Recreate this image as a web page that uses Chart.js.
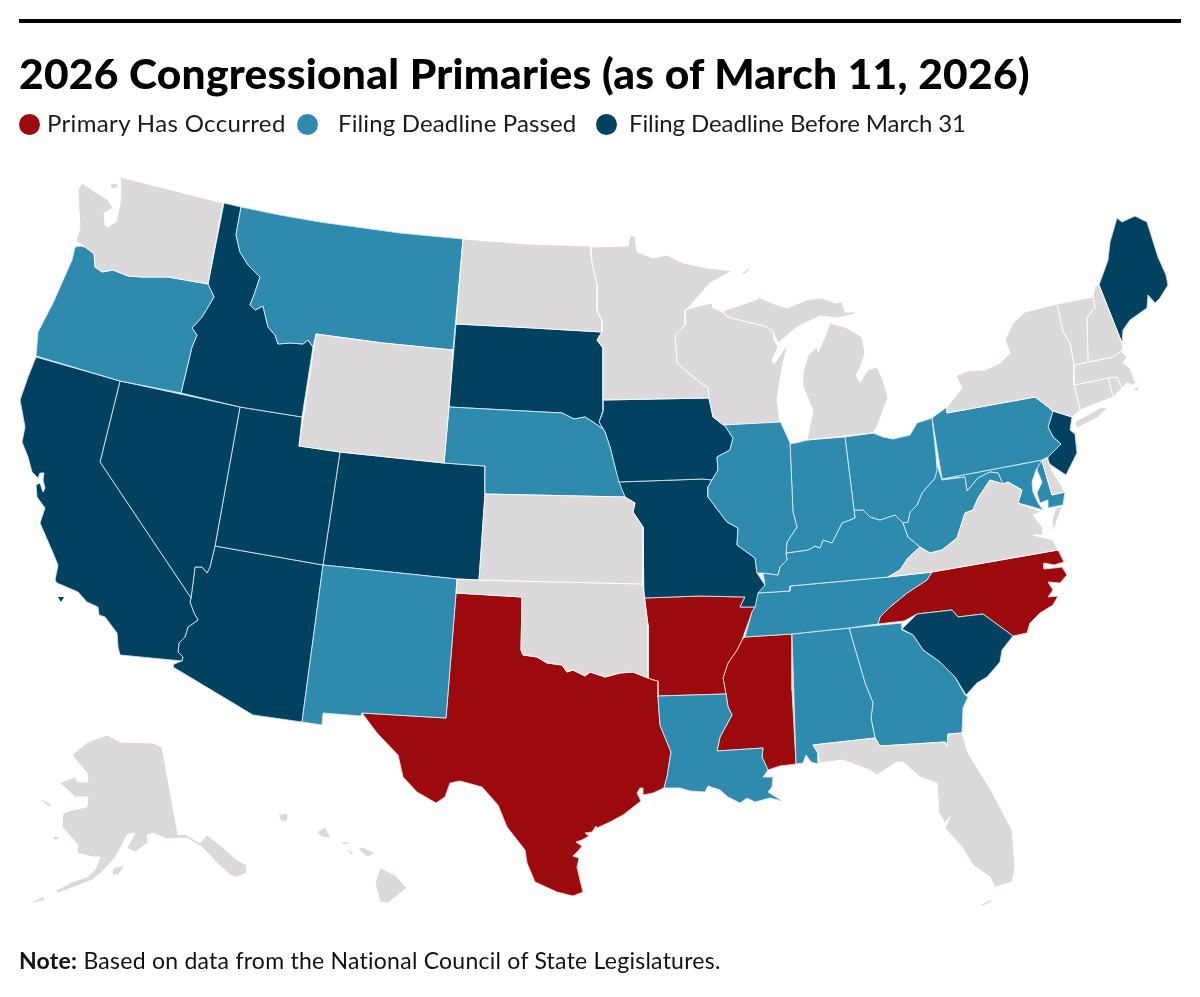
<!DOCTYPE html>
<html><head><meta charset="utf-8">
<script src="https://cdn.jsdelivr.net/npm/chart.js@4"></script>
<style>
html,body{margin:0;padding:0;background:#fff;width:1200px;height:997px;overflow:hidden}
#wrap{position:relative;width:1200px;height:997px;font-family:"Lato",sans-serif;color:#111}
canvas{position:absolute;left:0;top:0}
.rule{position:absolute;left:19px;top:19px;width:1162px;height:4px;background:#000}
h1{position:absolute;left:19px;top:49px;margin:0;font:900 42.5px/48px "Lato",sans-serif;color:#000;white-space:nowrap;letter-spacing:.26px}
.lg{position:absolute;top:108px;font-size:24px;line-height:30px;white-space:nowrap;color:#1a1a1a}
.dot{position:absolute;top:113.5px;width:21px;height:21px;border-radius:50%}
.note{position:absolute;left:19px;top:945px;font-size:23px;line-height:30px;white-space:nowrap;color:#111;letter-spacing:.25px}
</style></head><body>
<div id="wrap">
<canvas id="c" width="1200" height="997"></canvas>
<div class="rule"></div>
<h1>2026 Congressional Primaries (as of March 11, 2026)</h1>
<div class="dot" style="left:19px;background:#9c0a0e"></div><div class="lg" style="left:47px;letter-spacing:.35px">Primary Has Occurred</div>
<div class="dot" style="left:297px;background:#2f8bae"></div><div class="lg" style="left:338px;letter-spacing:.14px">Filing Deadline Passed</div>
<div class="dot" style="left:596px;background:#02415f"></div><div class="lg" style="left:629px;letter-spacing:-.1px">Filing Deadline Before March 31</div>
<div class="note"><b>Note:</b> Based on data from the National Council of State Legislatures.</div>
</div>
<script>
// State outlines.
const WA=[[120,177],[223,203],[208,284],[168,277],[142,277],[128,276],[113,270],[102,272],[95,267],[94,254],[85,247],[76,241],[80,228],[78,190],[82,183],[97,193],[108,200],[113,208],[104,213],[105,225],[108,227],[116,222],[120,205],[121,190]];
const WA_I=[[110,184],[117,183],[118,187],[112,189]];
const OR=[[80,246],[85,247],[94,253],[95,267],[102,272],[113,270],[128,276],[142,277],[168,277],[208,284],[214,297],[202,317],[192,328],[197,335],[192,347],[181,393],[120,381],[36,356],[38,332],[53,303],[72,260],[75,247]];
const ID=[[224,203],[241,207],[236,235],[240,252],[248,265],[260,277],[254,295],[250,305],[255,310],[263,306],[268,327],[275,335],[278,344],[290,343],[303,344],[308,340],[313,347],[302,417],[240,407],[181,393],[192,347],[197,335],[192,328],[202,317],[214,297],[208,284]];
const MT=[[241,207],[280,215],[320,222],[400,233],[463,239],[453,350],[383,343],[316,334],[313,347],[308,340],[303,344],[290,343],[278,344],[275,335],[268,327],[263,306],[255,310],[250,305],[254,295],[260,277],[248,265],[240,252],[236,235]];
const ND=[[463,239],[527,244],[590,246],[592,263],[597,285],[597,310],[602,322],[602,332],[533,328],[456,324]];
const SD=[[456,324],[533,328],[602,332],[597,340],[603,348],[603,410],[599,422],[603,429],[593,422],[585,417],[574,419],[562,413],[449,407]];
const WY=[[316,334],[383,343],[453,350],[449,407],[444,463],[340,452],[299,446]];
const NE=[[449,407],[562,413],[574,419],[585,417],[593,422],[603,429],[605,432],[610,447],[615,467],[619,482],[625,497],[485,494],[485,466],[444,463]];
const KS=[[485,494],[625,497],[635,503],[633,512],[643,527],[643,584],[479,580]];
const OK_=[[457,579],[479,580],[643,584],[648,625],[648,678],[633,672],[620,673],[605,677],[590,672],[585,676],[573,670],[567,672],[562,665],[547,663],[537,657],[523,655],[521,650],[522,597],[456,593]];
const TX=[[456,593],[522,597],[521,650],[523,655],[537,657],[547,663],[562,665],[567,672],[573,670],[585,676],[590,672],[605,677],[620,673],[633,672],[648,678],[653,680],[658,681],[658,697],[660,725],[671,752],[667,777],[664,788],[653,793],[643,795],[643,788],[640,788],[637,793],[641,801],[623,815],[610,822],[597,828],[596,826],[592,832],[585,833],[589,836],[582,840],[576,842],[582,846],[579,850],[573,856],[579,858],[577,867],[580,880],[583,892],[573,896],[557,892],[535,882],[527,863],[525,850],[507,827],[498,805],[482,787],[460,781],[450,783],[445,797],[436,803],[417,792],[403,777],[398,755],[377,733],[362,713],[446,718]];
const NM=[[323,565],[457,579],[456,593],[446,718],[362,713],[361,716],[323,713],[322,725],[302,722]];
const CO=[[340,452],[444,463],[485,466],[485,494],[479,580],[457,579],[323,565]];
const UT=[[240,407],[302,417],[299,446],[340,452],[323,565],[215,546]];
const NV=[[120,381],[240,407],[215,546],[210,567],[207,573],[202,567],[195,567],[193,583],[191,598],[100,462]];
const CA=[[36,357],[120,381],[100,462],[191,598],[190,602],[194,613],[198,620],[188,627],[185,637],[179,643],[178,652],[183,657],[182,661],[120,655],[118,647],[117,633],[105,617],[99,615],[98,607],[87,602],[78,592],[57,583],[55,580],[58,565],[53,553],[40,523],[45,508],[37,497],[36,485],[40,483],[43,492],[45,488],[43,480],[44,473],[40,473],[38,478],[32,472],[28,457],[22,442],[25,427],[20,400],[28,377]];
const CA_I=[[58,597],[64,597],[61,602]];
const AZ=[[215,546],[323,565],[302,722],[253,715],[173,667],[174,664],[182,661],[183,657],[178,652],[179,643],[185,637],[188,627],[198,620],[194,613],[190,602],[191,598],[193,583],[195,567],[202,567],[207,573],[210,567]];
const MN=[[591,247],[628,246],[630,236],[635,236],[637,252],[653,258],[667,255],[683,263],[707,268],[732,271],[710,283],[688,308],[685,310],[685,325],[675,335],[677,363],[693,377],[708,388],[709,398],[603,400],[603,348],[597,340],[602,332],[602,322],[597,310],[597,285],[592,263]];
const IA=[[603,400],[709,398],[710,403],[713,417],[723,423],[733,438],[730,450],[717,457],[718,470],[712,480],[703,479],[618,482],[615,467],[610,447],[605,432],[599,422],[603,412]];
const MO=[[618,482],[703,479],[712,480],[708,487],[708,497],[727,522],[738,528],[737,545],[755,558],[757,573],[765,585],[760,595],[755,607],[740,607],[745,597],[700,596],[644,598],[643,527],[633,512],[635,503],[625,497]];
const AR=[[644,598],[700,596],[745,597],[740,607],[755,607],[752,612],[742,640],[737,650],[728,663],[723,678],[726,694],[658,696],[657,681],[648,678],[648,625]];
const LA=[[658,696],[726,694],[728,707],[732,715],[720,737],[717,751],[763,748],[762,757],[768,770],[763,777],[773,777],[772,787],[768,792],[782,801],[770,798],[755,802],[747,798],[740,803],[728,797],[720,790],[708,786],[705,792],[690,791],[680,788],[664,788],[667,777],[671,752],[660,725]];
const MS=[[745,637],[792,634],[792,690],[796,764],[780,766],[768,770],[762,757],[763,748],[717,751],[720,737],[732,715],[728,707],[726,694],[723,678],[728,663],[737,650],[742,640]];
const AL=[[792,634],[849,628],[865,683],[873,703],[871,718],[875,738],[813,745],[818,753],[818,764],[811,762],[806,755],[803,763],[796,764]];
const GA=[[849,628],[902,623],[902,630],[913,635],[923,650],[940,662],[955,677],[965,695],[968,697],[963,708],[962,733],[948,734],[947,746],[945,742],[880,746],[875,738],[871,718],[873,703],[865,683]];
const FL=[[813,745],[875,738],[880,746],[945,742],[947,746],[948,734],[962,733],[968,753],[992,792],[1012,830],[1015,867],[1012,882],[995,887],[990,877],[973,865],[962,847],[945,828],[950,817],[945,823],[939,813],[937,783],[920,777],[903,762],[897,762],[877,775],[870,770],[843,760],[820,763],[818,753]];
const FL_I=[[980,905],[992,899],[991,902],[983,906]];
const SC=[[902,629],[917,614],[952,610],[958,617],[983,614],[1013,636],[1002,650],[1000,662],[987,677],[977,683],[966,695],[955,677],[940,662],[923,650],[913,635]];
const NC=[[932,572],[1058,550],[1064,562],[1054,565],[1044,563],[1044,569],[1054,568],[1062,567],[1067,575],[1060,583],[1048,582],[1053,590],[1048,597],[1058,596],[1053,605],[1040,613],[1030,623],[1027,633],[1013,636],[983,614],[958,617],[952,610],[917,614],[904,621],[878,624],[880,617],[890,607],[907,593],[927,580]];
const VA=[[888,577],[900,570],[908,558],[920,547],[930,553],[942,550],[957,538],[965,513],[973,510],[978,498],[990,480],[1003,484],[1008,482],[1022,490],[1018,503],[1042,512],[1033,515],[1043,528],[1043,535],[1033,535],[1053,540],[1058,550],[932,572]];
const VA_E=[[1056,507],[1062,507],[1053,532],[1052,520]];
const KY=[[888,577],[790,586],[790,591],[758,593],[765,585],[763,573],[778,575],[780,567],[787,560],[786,553],[808,550],[815,546],[820,548],[823,540],[832,543],[842,523],[855,518],[854,510],[863,510],[870,517],[880,520],[895,515],[903,523],[908,537],[920,547],[908,558],[900,570]];
const TN=[[758,593],[790,591],[790,586],[888,577],[932,572],[927,580],[907,593],[890,607],[880,617],[878,624],[849,628],[792,634],[745,637],[752,612],[755,607]];
const IL=[[723,423],[780,421],[787,436],[790,443],[793,512],[797,527],[787,542],[786,553],[787,560],[780,567],[778,575],[763,573],[757,573],[755,558],[737,545],[738,528],[727,522],[708,497],[708,487],[712,480],[718,470],[717,457],[730,450],[733,438]];
const WI=[[685,310],[703,305],[712,303],[713,308],[723,312],[727,317],[767,327],[773,332],[774,340],[778,347],[772,360],[774,364],[788,344],[783,363],[780,380],[777,400],[780,422],[723,425],[713,417],[709,398],[708,388],[693,377],[677,363],[675,335],[685,325]];
const MI_U=[[723,311],[758,299],[768,283],[760,298],[777,305],[787,308],[807,300],[822,298],[835,303],[842,302],[845,312],[855,312],[855,314],[837,318],[820,316],[797,327],[778,343],[773,332],[767,327],[727,317]];
const MI_L=[[830,323],[847,328],[862,337],[865,353],[860,368],[856,375],[860,382],[868,370],[877,367],[883,380],[888,398],[885,405],[877,427],[873,433],[807,440],[813,410],[803,387],[803,373],[808,355],[817,347],[818,352],[825,337]];
const MI_I=[[742,273],[753,265],[746,273],[743,275]];
const IN_=[[790,444],[800,442],[807,440],[845,437],[854,510],[855,518],[842,523],[832,543],[823,540],[820,548],[815,546],[808,550],[786,553],[787,542],[797,527],[793,512]];
const OH=[[845,437],[873,433],[883,437],[893,439],[910,435],[917,423],[932,418],[936,455],[937,470],[935,478],[922,493],[917,505],[910,512],[908,522],[903,523],[895,515],[880,520],[870,517],[863,510],[854,510]];
const WV=[[936,462],[942,480],[965,477],[967,491],[978,478],[990,472],[998,473],[1003,484],[990,480],[978,498],[973,510],[965,513],[957,538],[942,550],[930,553],[920,547],[908,537],[903,523],[908,522],[910,512],[917,505],[922,493],[935,478]];
const PA=[[932,418],[947,407],[947,413],[1035,397],[1043,403],[1053,411],[1048,427],[1053,437],[1061,444],[1048,457],[1042,460],[942,479]];
const NY=[[947,407],[955,397],[962,388],[956,376],[967,371],[985,370],[1000,363],[1010,353],[1005,340],[1013,323],[1025,312],[1057,304],[1063,332],[1070,343],[1074,365],[1074,385],[1080,410],[1072,417],[1053,411],[1043,403],[1035,397],[947,413]];
const NY_L=[[1075,422],[1100,408],[1108,407],[1097,418],[1077,428]];
const VT=[[1057,304],[1093,297],[1095,307],[1087,318],[1088,362],[1074,365],[1070,343],[1063,332]];
const NH=[[1093,297],[1095,286],[1099,285],[1122,343],[1123,350],[1113,357],[1088,362],[1087,318],[1095,307]];
const ME=[[1099,285],[1108,260],[1110,242],[1117,218],[1122,222],[1135,216],[1147,222],[1158,257],[1166,275],[1168,285],[1160,298],[1155,303],[1148,295],[1147,308],[1130,320],[1123,330],[1122,343]];
const MA=[[1074,365],[1113,357],[1120,350],[1127,357],[1123,363],[1130,368],[1135,382],[1147,375],[1133,385],[1127,383],[1122,388],[1117,377],[1108,378],[1074,385]];
const MA_I=[[1134,388],[1139,388],[1136,391]];
const CT=[[1074,385],[1108,378],[1113,397],[1080,410]];
const RI=[[1108,378],[1117,377],[1122,388],[1120,390],[1113,397]];
const NJ=[[1053,411],[1072,417],[1070,430],[1075,434],[1077,453],[1066,475],[1048,463],[1048,457],[1061,444],[1053,437],[1048,427]];
const DE=[[1042,461],[1047,458],[1053,472],[1065,492],[1052,495]];
const MD=[[942,479],[1042,460],[1036,470],[1032,482],[1033,492],[1038,503],[1043,510],[1033,507],[1018,503],[1022,490],[1008,482],[1003,484],[998,473],[990,472],[978,478],[967,491],[965,477]];
const MD_E=[[1038,464],[1042,461],[1052,495],[1065,492],[1063,505],[1048,508],[1048,500],[1040,503],[1037,493],[1042,482],[1037,470]];
const AK=[[107,735],[120,742],[153,743],[162,747],[178,835],[185,834],[200,843],[207,835],[220,845],[237,860],[247,865],[247,873],[237,877],[230,875],[217,863],[208,853],[202,847],[187,838],[167,839],[153,833],[147,835],[148,843],[135,852],[127,848],[135,833],[127,835],[118,853],[113,860],[102,872],[92,880],[77,886],[58,893],[55,891],[72,882],[87,877],[95,870],[100,857],[92,857],[77,853],[78,845],[62,827],[63,813],[72,810],[87,807],[88,797],[75,797],[60,783],[75,777],[78,782],[88,782],[87,773],[72,755],[88,742]];
const AK_KOD=[[113,868],[125,865],[118,875],[112,875]];
const AK_NUN=[[53,837],[60,837],[55,840]];
const AK_STL=[[40,799],[52,805],[48,806]];
const AK_ALE=[[30,903],[43,897],[45,900]];
const HI_1=[[278,815],[288,813],[288,820],[282,822]];
const HI_2=[[317,832],[325,827],[331,838],[322,837]];
const HI_3=[[342,842],[352,843],[343,844]];
const HI_4=[[348,850],[353,853],[350,854]];
const HI_5=[[358,848],[363,847],[375,853],[368,857],[362,853]];
const HI_6=[[380,868],[395,875],[407,888],[388,903],[380,902],[375,883]];

// Status of each state
const noPrimaryYet=[WA,WA_I,ND,WY,KS,OK_,MN,WI,MI_U,MI_L,MI_I,VA,VA_E,FL,FL_I,NY,NY_L,VT,NH,MA,MA_I,CT,RI,DE,AK,AK_KOD,AK_NUN,AK_STL,AK_ALE,HI_1,HI_2,HI_3,HI_4,HI_5,HI_6];
const filingPassed=[OR,MT,NE,NM,IL,IN_,OH,WV,PA,KY,TN,LA,AL,GA,MD,MD_E];
const filingBeforeMar31=[ID,SD,CA,CA_I,NV,UT,CO,AZ,IA,MO,SC,NJ,ME];
const primaryOccurred=[TX,AR,MS,NC];

const groups=[[noPrimaryYet,'#dbd9da','#ffffff'],[filingPassed,'#2f8bae','#d5eaf3'],[filingBeforeMar31,'#02415f','#cfe3ec'],[primaryOccurred,'#9c0a0e','#f6d5d5']];
const datasets=[];
for(const [list,fillC,lineC] of groups){
  for(const s of list){
    const pts=s.map(p=>({x:p[0],y:p[1]}));pts.push({x:s[0][0],y:s[0][1]});
    datasets.push({data:pts,showLine:true,fill:'shape',backgroundColor:fillC,borderColor:s.length<4?fillC:lineC,borderWidth:s.length<4?0:.9,pointRadius:0,tension:0,clip:false});
  }
}
new Chart(document.getElementById('c'),{type:'scatter',data:{datasets},options:{
  responsive:false,animation:false,devicePixelRatio:1,layout:{padding:0},
  plugins:{legend:{display:false},tooltip:{enabled:false},title:{display:false}},
  scales:{x:{type:'linear',min:0,max:1200,display:false},y:{type:'linear',min:0,max:997,reverse:true,display:false}}
}});
</script>
</body></html>
